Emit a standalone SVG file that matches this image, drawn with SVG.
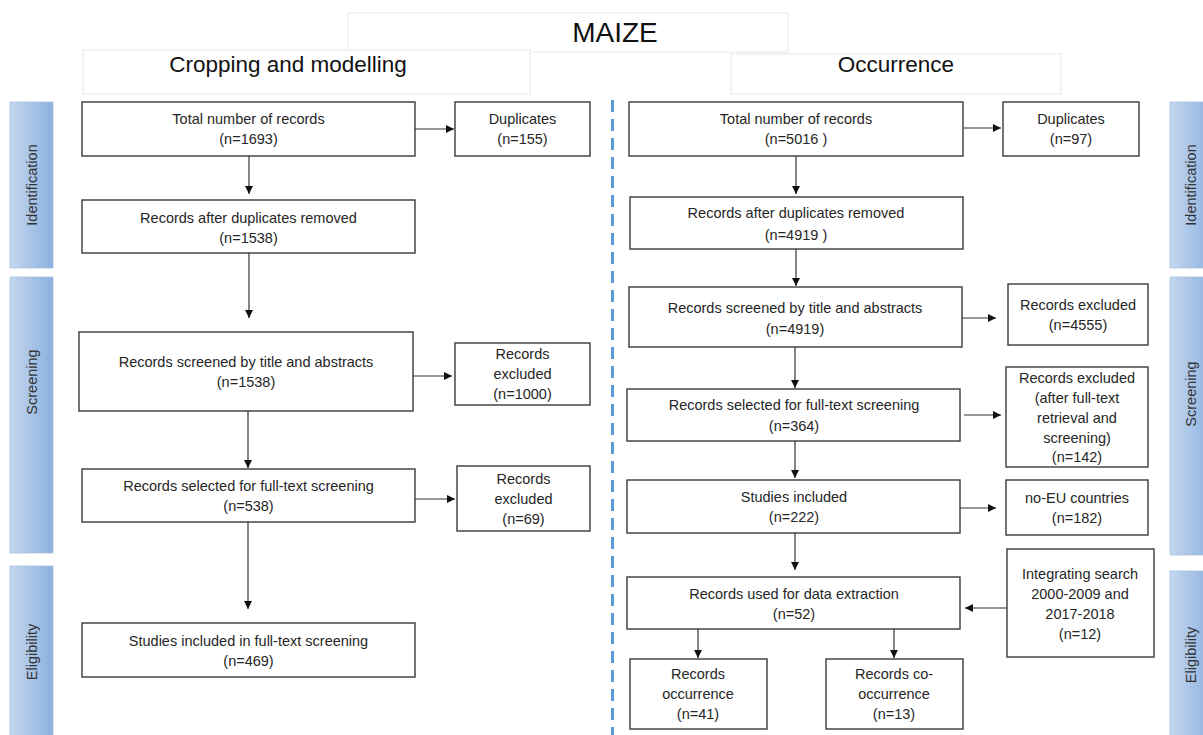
<svg xmlns="http://www.w3.org/2000/svg" width="1203" height="735" viewBox="0 0 1203 735">
  <defs>
    <linearGradient id="barFill" x1="0" y1="0" x2="1" y2="0">
      <stop offset="0" stop-color="#c4d7ef"/>
      <stop offset="1" stop-color="#8cb1df"/>
    </linearGradient>
    <marker id="arrow" viewBox="0 0 10 10" refX="10" refY="5" markerWidth="9" markerHeight="8" markerUnits="userSpaceOnUse" orient="auto">
      <path d="M0,0 L10,5 L0,10 z" fill="#111"/>
    </marker>
    <style>
      .box { fill: #ffffff; stroke: #3a3a3a; stroke-width: 1.4; }
      .title-box { fill: #ffffff; stroke: #ececec; stroke-width: 1.2; }
      .bar { fill: url(#barFill); stroke: #a9bfdc; stroke-width: 0.8; }
      .t { font-family: "Liberation Sans", Arial, sans-serif; font-size: 14.5px; fill: #262626; text-anchor: middle; }
      .bar-label { font-family: "Liberation Sans", Arial, sans-serif; font-size: 14.5px; fill: #333333; text-anchor: middle; }
      .h1 { font-family: "Liberation Sans", Arial, sans-serif; font-size: 28px; fill: #111; text-anchor: middle; }
      .h2 { font-family: "Liberation Sans", Arial, sans-serif; font-size: 22.5px; fill: #111; text-anchor: middle; }
      .link { fill: none; stroke: #333; stroke-width: 1.2; marker-end: url(#arrow); }
      .divider { fill: none; stroke: #5b9bd5; stroke-width: 3; stroke-dasharray: 12 7; }
    </style>
  </defs>

  <rect width="1203" height="735" fill="#ffffff"/>

  <!-- headings -->
  <g id="title">
    <rect class="title-box" x="348" y="13" width="440" height="39"/>
    <text class="h1" x="615" y="42">MAIZE</text>
  </g>
  <g id="heading-cropping">
    <rect class="title-box" x="83" y="50" width="447" height="44"/>
    <text class="h2" x="288" y="72">Cropping and modelling</text>
  </g>
  <g id="heading-occurrence">
    <rect class="title-box" x="731" y="54" width="330" height="40"/>
    <text class="h2" x="896" y="72">Occurrence</text>
  </g>

  <!-- phase bars, left -->
  <g id="phase-left-identification">
    <rect class="bar" x="10" y="102" width="43" height="166"/>
    <text class="bar-label" transform="translate(37,185) rotate(-90)">Identification</text>
  </g>
  <g id="phase-left-screening">
    <rect class="bar" x="10" y="277" width="43" height="276"/>
    <text class="bar-label" transform="translate(37,382) rotate(-90)">Screening</text>
  </g>
  <g id="phase-left-eligibility">
    <rect class="bar" x="10" y="566" width="43" height="175"/>
    <text class="bar-label" transform="translate(37,652) rotate(-90)">Eligibility</text>
  </g>

  <!-- phase bars, right -->
  <g id="phase-right-identification">
    <rect class="bar" x="1170" y="102" width="43" height="166"/>
    <text class="bar-label" transform="translate(1196,185) rotate(-90)">Identification</text>
  </g>
  <g id="phase-right-screening">
    <rect class="bar" x="1170" y="277" width="43" height="278"/>
    <text class="bar-label" transform="translate(1196,394) rotate(-90)">Screening</text>
  </g>
  <g id="phase-right-eligibility">
    <rect class="bar" x="1170" y="571" width="43" height="170"/>
    <text class="bar-label" transform="translate(1196,655) rotate(-90)">Eligibility</text>
  </g>

  <!-- divider between the two flows -->
  <line class="divider" x1="612.5" y1="100" x2="612.5" y2="735"/>

  <!-- cropping and modelling flow -->
  <g id="cm-total">
    <rect class="box" x="82" y="102" width="333" height="54"/>
    <text class="t" x="248.5" y="124">Total number of records</text>
    <text class="t" x="248.5" y="144">(n=1693)</text>
  </g>
  <g id="cm-duplicates">
    <rect class="box" x="455" y="102" width="135" height="54"/>
    <text class="t" x="522.5" y="124">Duplicates</text>
    <text class="t" x="522.5" y="144">(n=155)</text>
  </g>
  <g id="cm-dedup">
    <rect class="box" x="82" y="200" width="333" height="53"/>
    <text class="t" x="248.5" y="223">Records after duplicates removed</text>
    <text class="t" x="248.5" y="243">(n=1538)</text>
  </g>
  <g id="cm-screened">
    <rect class="box" x="79" y="332" width="334" height="79"/>
    <text class="t" x="246" y="367">Records screened by title and abstracts</text>
    <text class="t" x="246" y="387">(n=1538)</text>
  </g>
  <g id="cm-excluded-1">
    <rect class="box" x="455" y="343" width="135" height="62"/>
    <text class="t" x="522.5" y="359">Records</text>
    <text class="t" x="522.5" y="379">excluded</text>
    <text class="t" x="522.5" y="399">(n=1000)</text>
  </g>
  <g id="cm-fulltext">
    <rect class="box" x="82" y="469" width="333" height="53"/>
    <text class="t" x="248.5" y="491">Records selected for full-text screening</text>
    <text class="t" x="248.5" y="511">(n=538)</text>
  </g>
  <g id="cm-excluded-2">
    <rect class="box" x="457" y="466" width="133" height="65"/>
    <text class="t" x="523.5" y="484">Records</text>
    <text class="t" x="523.5" y="504">excluded</text>
    <text class="t" x="523.5" y="524">(n=69)</text>
  </g>
  <g id="cm-included">
    <rect class="box" x="82" y="623" width="333" height="54"/>
    <text class="t" x="248.5" y="646">Studies included in full-text screening</text>
    <text class="t" x="248.5" y="666">(n=469)</text>
  </g>

  <!-- occurrence flow -->
  <g id="oc-total">
    <rect class="box" x="629" y="102" width="334" height="54"/>
    <text class="t" x="796" y="124">Total number of records</text>
    <text class="t" x="796" y="144">(n=5016 )</text>
  </g>
  <g id="oc-duplicates">
    <rect class="box" x="1003" y="102" width="136" height="54"/>
    <text class="t" x="1071" y="124">Duplicates</text>
    <text class="t" x="1071" y="144">(n=97)</text>
  </g>
  <g id="oc-dedup">
    <rect class="box" x="630" y="197" width="333" height="52"/>
    <text class="t" x="796" y="218">Records after duplicates removed</text>
    <text class="t" x="796" y="240">(n=4919 )</text>
  </g>
  <g id="oc-screened">
    <rect class="box" x="629" y="287" width="333" height="60"/>
    <text class="t" x="795" y="313">Records screened by title and abstracts</text>
    <text class="t" x="795" y="334">(n=4919)</text>
  </g>
  <g id="oc-excluded-1">
    <rect class="box" x="1008" y="284" width="140" height="61"/>
    <text class="t" x="1078" y="310">Records excluded</text>
    <text class="t" x="1078" y="330">(n=4555)</text>
  </g>
  <g id="oc-fulltext">
    <rect class="box" x="627" y="389" width="333" height="52"/>
    <text class="t" x="794" y="410">Records selected for full-text screening</text>
    <text class="t" x="794" y="431">(n=364)</text>
  </g>
  <g id="oc-excluded-2">
    <rect class="box" x="1006" y="367" width="142" height="100"/>
    <text class="t" x="1077" y="383">Records excluded</text>
    <text class="t" x="1077" y="403">(after full-text</text>
    <text class="t" x="1077" y="423">retrieval and</text>
    <text class="t" x="1077" y="443">screening)</text>
    <text class="t" x="1077" y="462">(n=142)</text>
  </g>
  <g id="oc-included">
    <rect class="box" x="627" y="480" width="333" height="53"/>
    <text class="t" x="794" y="502">Studies included</text>
    <text class="t" x="794" y="522">(n=222)</text>
  </g>
  <g id="oc-non-eu">
    <rect class="box" x="1006" y="480" width="142" height="55"/>
    <text class="t" x="1077" y="503">no-EU countries</text>
    <text class="t" x="1077" y="523">(n=182)</text>
  </g>
  <g id="oc-extraction">
    <rect class="box" x="627" y="577" width="333" height="52"/>
    <text class="t" x="794" y="599">Records used for data extraction</text>
    <text class="t" x="794" y="619">(n=52)</text>
  </g>
  <g id="oc-integrating">
    <rect class="box" x="1007" y="549" width="147" height="108"/>
    <text class="t" x="1080" y="579">Integrating search</text>
    <text class="t" x="1080" y="599">2000-2009 and</text>
    <text class="t" x="1080" y="619">2017-2018</text>
    <text class="t" x="1080" y="639">(n=12)</text>
  </g>
  <g id="oc-occurrence">
    <rect class="box" x="630" y="659" width="137" height="70"/>
    <text class="t" x="698" y="679">Records</text>
    <text class="t" x="698" y="699">occurrence</text>
    <text class="t" x="698" y="719">(n=41)</text>
  </g>
  <g id="oc-co-occurrence">
    <rect class="box" x="826" y="659" width="137" height="70"/>
    <text class="t" x="894" y="679">Records co-</text>
    <text class="t" x="894" y="699">occurrence</text>
    <text class="t" x="894" y="719">(n=13)</text>
  </g>

  <!-- connectors -->
  <g id="connectors">
    <line class="link" x1="415" y1="129" x2="454" y2="129"/>
    <line class="link" x1="249" y1="156" x2="249" y2="194"/>
    <line class="link" x1="249" y1="253" x2="249" y2="318"/>
    <line class="link" x1="413" y1="376" x2="452" y2="376"/>
    <line class="link" x1="248" y1="411" x2="248" y2="468"/>
    <line class="link" x1="415" y1="499" x2="455" y2="499"/>
    <line class="link" x1="248" y1="522" x2="248" y2="609"/>

    <line class="link" x1="963" y1="128" x2="1001" y2="128"/>
    <line class="link" x1="796" y1="156" x2="796" y2="194"/>
    <line class="link" x1="796" y1="249" x2="796" y2="286"/>
    <line class="link" x1="962" y1="318" x2="996" y2="318"/>
    <line class="link" x1="795" y1="347" x2="795" y2="388"/>
    <line class="link" x1="964" y1="415" x2="1001" y2="415"/>
    <line class="link" x1="795" y1="441" x2="795" y2="478"/>
    <line class="link" x1="960" y1="508" x2="996" y2="508"/>
    <line class="link" x1="795" y1="533" x2="795" y2="570"/>
    <line class="link" x1="1007" y1="608" x2="965" y2="608"/>
    <line class="link" x1="698" y1="629" x2="698" y2="658"/>
    <line class="link" x1="894" y1="629" x2="894" y2="658"/>
  </g>
</svg>
